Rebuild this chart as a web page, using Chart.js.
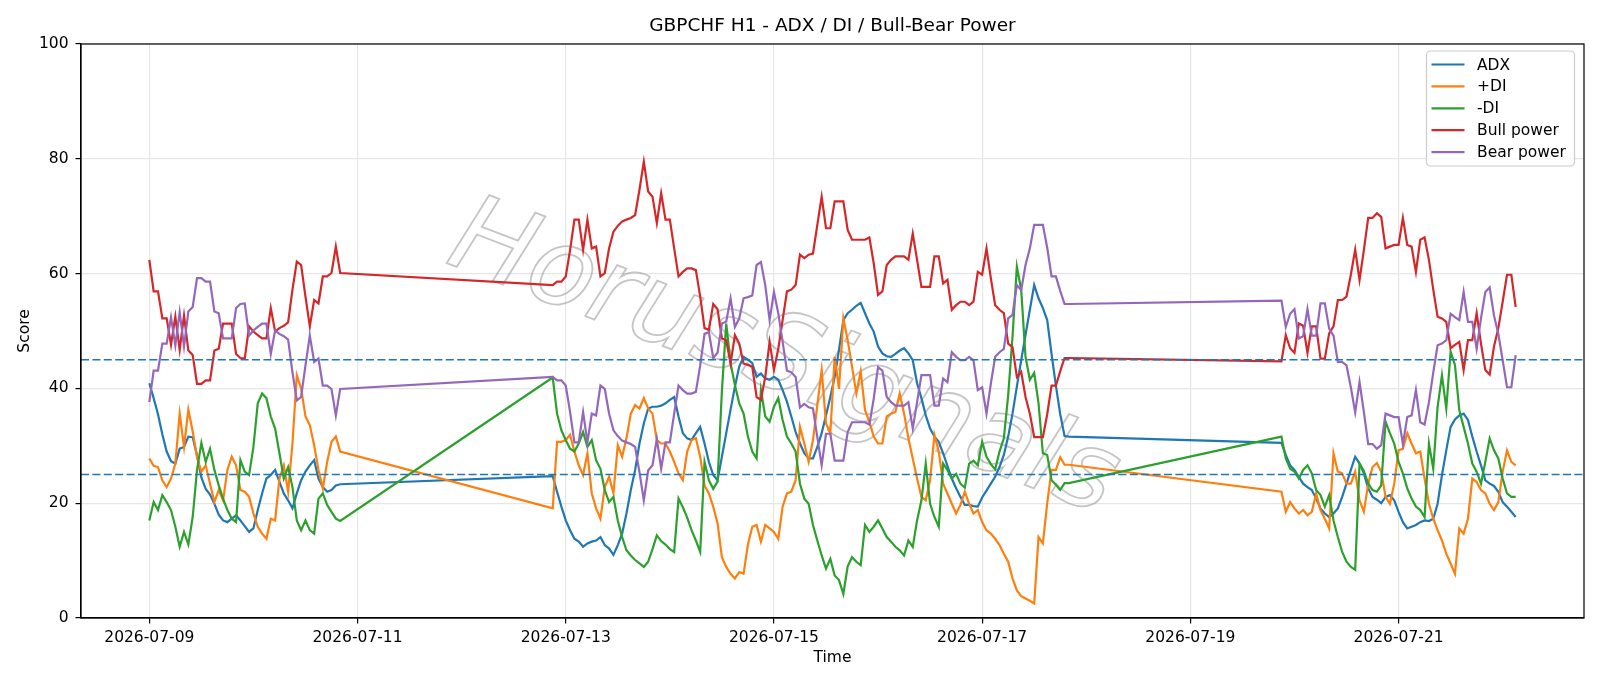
<!DOCTYPE html>
<html>
<head>
<meta charset="utf-8">
<title>GBPCHF H1 - ADX / DI / Bull-Bear Power</title>
<script src="https://cdn.jsdelivr.net/npm/chart.js@4.4.1/dist/chart.umd.min.js"></script>
<style>
  html, body { margin: 0; padding: 0; background: #fff; }
  #wrap { width: 1600px; height: 686px; }
</style>
</head>
<body>
<div id="wrap"><canvas id="chart" width="1600" height="686"></canvas></div>
<script>
// hourly bars, hour offsets counted from 2026-07-09 00:00 (weekends have no bars)
const sessions = [[0, 44], [93, 212], [261, 315]];

const tickHours = [0, 48, 96, 144, 192, 240, 288];
const tickLabels = ["2026-07-09", "2026-07-11", "2026-07-13", "2026-07-15", "2026-07-17", "2026-07-19", "2026-07-21"];

const refLevels = [45, 25];

const adx = [
  40.9, 38.3, 35.5, 32.0, 29.0, 27.3, 26.9, 29.5, 29.8, 31.6,
  31.5, 28.3, 24.5, 22.5, 21.5, 19.9, 18.0, 17.0, 16.7, 17.3,
  17.9, 17.0, 16.0, 15.0, 15.6, 18.8, 21.7, 24.3, 24.9, 25.8,
  23.7, 21.7, 20.5, 19.1, 21.7, 24.0, 25.5, 26.6, 27.5, 24.3,
  22.8, 22.0, 22.3, 23.1, 23.3,
  24.7, 22.0, 19.4, 17.0, 15.3, 13.8, 13.3, 12.4, 13.0, 13.3,
  13.5, 14.1, 12.7, 12.1, 11.0, 12.7, 14.7, 18.2, 22.3, 25.8,
  30.4, 33.9, 36.5, 36.8, 36.8, 37.0, 37.4, 38.0, 38.5, 35.1,
  32.2, 31.3, 31.0, 32.2, 33.3, 30.4, 27.2, 24.9, 24.0, 28.1,
  32.2, 36.3, 40.3, 43.8, 45.5, 45.0, 44.4, 42.0, 42.6, 41.7,
  41.5, 42.0, 41.5, 39.7, 37.7, 35.1, 32.4, 30.4, 28.7, 27.8,
  27.8, 29.8, 32.2, 35.3, 38.5, 42.0, 46.7, 51.9, 53.1, 53.7,
  54.4, 54.9, 53.1, 51.3, 49.9, 47.3, 46.1, 45.6, 45.5, 46.0,
  46.6, 47.0, 46.1, 44.9, 40.9, 38.3, 35.3, 33.0, 31.6, 30.7,
  28.7, 26.5, 24.3, 22.6, 21.1, 19.7, 19.7, 19.5, 19.4, 21.0,
  22.2, 23.4, 24.6, 26.3, 28.4, 31.6, 35.6, 40.3, 44.9, 49.3,
  53.7, 58.0, 55.7, 54.0, 51.9, 46.0, 40.5, 35.5, 31.7, 31.6,
  30.5, 28.4, 26.6, 25.8, 24.6, 23.4, 22.8, 22.3, 20.8, 19.1,
  18.2, 17.6, 18.2, 19.1, 21.1, 23.4, 25.8, 28.1, 26.9, 25.2,
  22.6, 21.1, 20.6, 20.0, 21.1, 21.4, 20.5, 18.5, 16.7, 15.6,
  15.9, 16.2, 16.7, 17.0, 16.9, 17.3, 19.9, 24.9, 29.2, 33.3,
  34.6, 35.3, 35.6, 34.5, 31.6, 29.0, 26.6, 24.0, 23.4, 23.0,
  22.0, 20.2, 19.4, 18.5, 17.6
];

const plusDI = [
  27.8, 26.5, 26.3, 24.0, 22.8, 24.3, 26.9, 35.6, 29.8, 36.3,
  32.5, 28.0, 25.5, 26.6, 23.4, 20.2, 22.3, 20.5, 25.8, 28.1,
  26.6, 22.3, 22.0, 21.1, 18.2, 15.9, 14.7, 13.8, 17.3, 17.0,
  24.3, 26.6, 22.0, 30.4, 42.3, 40.0, 35.1, 33.6, 30.1, 25.8,
  22.6, 27.2, 30.7, 31.6, 29.0,
  19.1, 30.7, 30.7, 31.0, 31.9, 29.0, 26.6, 24.9, 28.7, 21.7,
  19.1, 17.3, 22.8, 24.6, 21.7, 30.1, 28.1, 31.3, 35.6, 37.1,
  36.5, 38.3, 36.5, 35.6, 31.0, 30.4, 30.4, 29.0, 27.2, 25.2,
  24.0, 29.0, 31.0, 31.3, 28.1, 23.1, 21.7, 19.4, 16.5, 10.6,
  8.9, 7.7, 6.9, 8.0, 7.7, 12.8, 15.9, 16.2, 13.3, 16.2,
  15.6, 15.0, 13.8, 19.4, 21.7, 22.0, 24.0, 33.3, 30.4, 27.2,
  31.0, 37.1, 43.2, 33.9, 32.2, 45.5, 39.9, 52.2, 48.4, 43.8,
  39.1, 43.0, 36.2, 34.2, 31.6, 30.4, 30.4, 35.1, 35.6, 35.9,
  39.1, 35.6, 31.3, 27.8, 24.3, 21.1, 20.5, 24.0, 31.9, 29.0,
  23.4, 21.7, 19.9, 18.2, 19.7, 22.0, 19.9, 18.2, 18.8, 16.7,
  15.3, 14.7, 13.8, 12.7, 11.2, 9.8, 6.9, 4.8, 3.8, 3.4,
  3.0, 2.5, 14.1, 13.0, 20.0, 25.8, 25.8, 28.0, 26.7, 26.7,
  22.0, 18.5, 20.2, 19.1, 18.2, 18.8, 17.9, 18.5, 21.7, 18.8,
  17.3, 15.6, 28.7, 25.5, 25.2, 23.4, 23.4, 25.5, 20.5, 18.5,
  23.4, 26.3, 27.0, 25.5, 21.1, 19.9, 23.4, 29.2, 29.5, 32.2,
  30.4, 28.7, 29.0, 24.3, 19.9, 17.3, 15.3, 13.5, 11.2, 9.5,
  7.7, 15.6, 14.7, 17.3, 24.3, 23.7, 22.3, 21.7, 19.9, 18.8,
  20.2, 25.5, 29.2, 27.2, 26.6
];

const minusDI = [
  17.0, 20.2, 18.8, 21.4, 20.2, 18.8, 15.9, 12.4, 15.0, 12.8,
  17.6, 25.8, 30.5, 27.2, 29.5, 25.8, 23.1, 20.8, 18.8, 17.3,
  16.7, 27.5, 25.5, 24.9, 29.8, 37.4, 39.1, 38.3, 35.1, 33.0,
  28.7, 24.3, 26.3, 22.8, 17.0, 15.3, 17.0, 15.3, 14.7, 20.8,
  21.7, 19.7, 18.5, 17.3, 16.9,
  41.9, 35.6, 32.7, 31.0, 29.5, 29.0, 30.4, 32.4, 29.8, 31.0,
  27.5, 26.0, 22.3, 20.2, 21.1, 17.0, 14.1, 11.8, 10.9, 10.1,
  9.5, 8.9, 9.8, 12.0, 14.4, 13.4, 12.8, 12.0, 11.5, 20.8,
  19.3, 17.5, 15.3, 13.5, 11.5, 27.2, 24.0, 22.5, 23.8, 39.5,
  51.3, 44.4, 40.6, 37.4, 35.6, 31.6, 29.0, 27.8, 39.7, 35.1,
  34.2, 36.8, 38.3, 34.5, 31.6, 30.4, 29.0, 23.4, 20.8, 19.9,
  16.2, 13.5, 10.9, 8.6, 10.3, 7.4, 6.6, 4.2, 9.0, 10.6,
  9.8, 9.2, 16.2, 15.0, 15.9, 17.0, 15.6, 14.1, 13.3, 12.4,
  11.8, 10.9, 13.5, 12.4, 17.0, 20.5, 26.9, 19.9, 17.6, 15.9,
  26.9, 25.8, 24.3, 25.1, 23.4, 22.7, 26.9, 27.4, 26.6, 30.7,
  28.1, 26.8, 25.9, 29.0, 31.3, 38.8, 49.0, 61.2, 57.2, 45.5,
  41.5, 42.7, 37.4, 28.7, 28.4, 24.0, 23.2, 22.3, 23.5, 23.5,
  31.6, 27.8, 26.0, 25.5, 24.3, 25.8, 26.6, 25.2, 22.3, 21.4,
  19.4, 21.4, 17.0, 14.1, 11.5, 9.8, 8.9, 8.4, 26.9, 25.6,
  23.4, 22.3, 22.0, 23.1, 34.2, 32.2, 30.4, 27.2, 25.2, 22.6,
  20.8, 19.4, 18.8, 17.6, 30.4, 26.0, 36.8, 42.3, 36.5, 46.4,
  44.1, 36.2, 33.3, 30.4, 26.9, 25.5, 23.4, 27.2, 31.3, 29.2,
  27.8, 24.3, 21.7, 21.1, 21.1
];

const bullPower = [
  62.4, 56.9, 56.9, 52.2, 52.2, 47.6, 52.5, 46.7, 52.7, 46.6,
  45.8, 40.8, 40.8, 41.4, 41.4, 46.6, 46.9, 51.3, 51.3, 51.3,
  46.0, 45.3, 45.2, 50.8, 49.9, 49.3, 48.7, 48.7, 54.0, 49.9,
  50.5, 50.9, 51.5, 57.2, 62.1, 61.5, 56.0, 50.8, 55.4, 54.8,
  59.5, 59.5, 60.1, 64.7, 60.1,
  58.0, 58.6, 58.6, 59.5, 64.1, 69.4, 69.4, 64.1, 69.4, 64.4,
  64.7, 59.5, 60.1, 64.4, 67.3, 68.3, 69.1, 69.4, 69.7, 70.2,
  74.6, 79.5, 74.3, 73.4, 68.8, 74.0, 69.4, 69.4, 64.4, 59.5,
  60.3, 60.9, 60.9, 60.6, 56.0, 50.5, 50.2, 54.7, 53.8, 48.7,
  48.4, 44.3, 49.3, 47.8, 44.3, 44.1, 43.8, 38.5, 38.0, 42.0,
  48.1, 43.2, 46.9, 51.9, 56.9, 57.2, 58.0, 63.3, 62.7, 63.3,
  63.5, 68.5, 73.4, 67.9, 67.9, 72.6, 72.6, 72.6, 67.6, 65.9,
  65.9, 65.9, 65.9, 66.3, 61.8, 56.3, 56.9, 61.5, 62.4, 63.0,
  63.0, 63.0, 62.4, 67.0, 62.4, 57.7, 57.7, 57.7, 63.0, 63.0,
  58.3, 58.9, 53.7, 54.5, 55.1, 55.1, 54.5, 55.1, 60.3, 59.8,
  64.4, 59.2, 54.5, 53.7, 53.1, 47.8, 47.2, 42.0, 42.9, 38.5,
  35.6, 31.5, 31.5, 31.5, 35.5, 40.5, 40.5, 43.0, 45.3, 45.3,
  44.7, 49.3, 47.0, 46.2, 51.3, 50.9, 46.2, 50.8, 50.8, 45.2,
  45.2, 49.6, 50.8, 55.4, 55.4, 56.0, 59.8, 64.2, 58.9, 64.1,
  69.7, 69.7, 70.5, 69.9, 64.4, 64.7, 65.0, 65.0, 69.7, 65.0,
  64.7, 60.3, 65.9, 66.3, 62.4, 57.2, 52.5, 52.2, 51.6, 47.0,
  47.6, 48.1, 43.2, 48.4, 48.4, 53.1, 47.8, 43.2, 42.4, 47.3,
  50.5, 55.1, 59.8, 59.8, 54.2
];

const bearPower = [
  37.6, 43.1, 43.1, 47.8, 47.8, 52.4, 47.5, 53.3, 47.3, 53.4,
  54.2, 59.2, 59.2, 58.6, 58.6, 53.4, 53.1, 48.7, 48.7, 48.7,
  54.0, 54.7, 54.8, 49.2, 50.1, 50.7, 51.3, 51.3, 46.0, 50.1,
  49.5, 49.1, 48.5, 42.8, 37.9, 38.5, 44.0, 49.2, 44.6, 45.2,
  40.5, 40.5, 39.9, 35.3, 39.9,
  42.0, 41.4, 41.4, 40.5, 35.9, 30.6, 30.6, 35.9, 30.6, 35.6,
  35.3, 40.5, 39.9, 35.6, 32.7, 31.7, 30.9, 30.6, 30.3, 29.8,
  25.4, 20.5, 25.7, 26.6, 31.2, 26.0, 30.6, 30.6, 35.6, 40.5,
  39.7, 39.1, 39.1, 39.4, 44.0, 49.5, 49.8, 45.3, 46.2, 51.3,
  51.6, 55.7, 50.7, 52.2, 55.7, 55.9, 56.2, 61.5, 62.0, 58.0,
  51.9, 56.8, 53.1, 48.1, 43.1, 42.8, 42.0, 36.7, 37.3, 36.7,
  36.5, 31.5, 26.6, 32.1, 32.1, 27.4, 27.4, 27.4, 32.4, 34.1,
  34.1, 34.1, 34.1, 33.7, 38.2, 43.7, 43.1, 38.5, 37.6, 37.0,
  37.0, 37.0, 37.6, 33.0, 37.6, 42.3, 42.3, 42.3, 37.0, 37.0,
  41.7, 41.1, 46.3, 45.5, 44.9, 44.9, 45.5, 44.9, 39.7, 40.2,
  35.6, 40.8, 45.5, 46.3, 46.9, 52.2, 52.8, 58.0, 57.1, 61.5,
  64.4, 68.5, 68.5, 68.5, 64.5, 59.5, 59.5, 57.0, 54.7, 54.7,
  55.3, 50.7, 53.0, 53.8, 48.7, 49.1, 53.8, 49.2, 49.2, 54.8,
  54.8, 50.4, 49.2, 44.6, 44.6, 44.0, 40.2, 35.8, 41.1, 35.9,
  30.3, 30.3, 29.5, 30.1, 35.6, 35.3, 35.0, 35.0, 30.3, 35.0,
  35.3, 39.7, 34.1, 33.7, 37.6, 42.8, 47.5, 47.8, 48.4, 53.0,
  52.4, 51.9, 56.8, 51.6, 51.6, 46.9, 52.2, 56.8, 57.6, 52.7,
  49.5, 44.9, 40.2, 40.2, 45.8
];

const hours = [];
sessions.forEach(([a, b]) => { for (let h = a; h <= b; h++) hours.push(h); });

const FONT = "'DejaVu Sans', sans-serif";

const series = [
  { label: "ADX", values: adx, color: "#1f77b4" },
  { label: "+DI", values: plusDI, color: "#ff7f0e" },
  { label: "-DI", values: minusDI, color: "#2ca02c" },
  { label: "Bull power", values: bullPower, color: "#d62728" },
  { label: "Bear power", values: bearPower, color: "#9467bd" }
];

// matplotlib style 5% margins
const span = hours[hours.length - 1] - hours[0];
const xMin = hours[0] - span * 0.05;
const xMax = hours[hours.length - 1] + span * 0.05;

const extras = {
  id: "extras",
  beforeDatasetsDraw(chart) {
    const { ctx, chartArea: a } = chart;
    ctx.save();
    ctx.beginPath();
    ctx.rect(a.left, a.top, a.right - a.left, a.bottom - a.top);
    ctx.clip();
    ctx.translate(783, 362);
    ctx.rotate(21 * Math.PI / 180);
    ctx.font = "italic 108px " + FONT;
    ctx.textAlign = "center";
    ctx.textBaseline = "middle";
    ctx.lineWidth = 1.8;
    ctx.strokeStyle = "rgba(140,140,140,0.5)";
    ctx.strokeText("HorusSignals", 0, 0);
    ctx.restore();
  },
  afterDatasetsDraw(chart) {
    const { ctx, chartArea: a, scales } = chart;
    ctx.save();
    ctx.strokeStyle = "#1f77b4";
    ctx.lineWidth = 1.5;
    ctx.setLineDash([8, 3.4]);
    refLevels.forEach(v => {
      const y = scales.y.getPixelForValue(v);
      ctx.beginPath();
      ctx.moveTo(a.left, y);
      ctx.lineTo(a.right, y);
      ctx.stroke();
    });
    ctx.setLineDash([]);
    ctx.strokeStyle = "#000";
    ctx.lineWidth = 1.2;
    ctx.strokeRect(a.left, a.top, a.right - a.left, a.bottom - a.top);
    ctx.restore();
  },
  afterDraw(chart) {
    const { ctx, chartArea: a } = chart;
    ctx.save();
    // title
    ctx.fillStyle = "#000";
    ctx.font = "18.5px " + FONT;
    ctx.textAlign = "center";
    ctx.textBaseline = "middle";
    ctx.fillText("GBPCHF H1 - ADX / DI / Bull-Bear Power", (a.left + a.right) / 2, 26);

    // legend
    const bw = 148, bh = 115;
    const bx = a.right - 9.5 - bw, by = a.top + 7;
    ctx.beginPath();
    ctx.roundRect(bx, by, bw, bh, 4);
    ctx.fillStyle = "rgba(255,255,255,0.8)";
    ctx.fill();
    ctx.strokeStyle = "#cccccc";
    ctx.lineWidth = 1.2;
    ctx.stroke();
    ctx.font = "15.5px " + FONT;
    ctx.textAlign = "left";
    ctx.textBaseline = "middle";
    chart.data.datasets.forEach((d, i) => {
      const y = by + 13.5 + i * 21.9;
      ctx.strokeStyle = d.borderColor;
      ctx.lineWidth = 2.2;
      ctx.beginPath();
      ctx.moveTo(bx + 5, y);
      ctx.lineTo(bx + 38, y);
      ctx.stroke();
      ctx.fillStyle = "#000";
      ctx.fillText(d.label, bx + 50.5, y + 1);
    });
    ctx.restore();
  }
};

new Chart(document.getElementById("chart"), {
  type: "line",
  data: {
    datasets: series.map((s, i) => ({
      label: s.label,
      data: hours.map((h, j) => ({ x: h, y: s.values[j] })),
      borderColor: s.color,
      backgroundColor: s.color,
      borderWidth: 2.2,
      pointRadius: 0,
      tension: 0,
      fill: false,
      order: series.length - i
    }))
  },
  options: {
    responsive: false,
    animation: false,
    devicePixelRatio: 1,
    layout: { padding: { top: 44, right: 16, bottom: 0, left: 0 } },
    plugins: {
      legend: { display: false },
      title: { display: false },
      tooltip: { enabled: false }
    },
    scales: {
      x: {
        type: "linear",
        min: xMin,
        max: xMax,
        afterBuildTicks: s => { s.ticks = tickHours.map(v => ({ value: v })); },
        afterFit: s => { s.height = 68; },
        ticks: {
          callback: v => tickLabels[tickHours.indexOf(v)],
          font: { family: FONT, size: 15.5 },
          color: "#000",
          padding: 5,
          maxRotation: 0,
          autoSkip: false
        },
        grid: { color: "#e6e6e6", lineWidth: 1.2, tickLength: 5.5, tickColor: "#000", tickWidth: 1.2 },
        border: { color: "#000", width: 1.2 },
        title: {
          display: true, text: "Time", color: "#000",
          font: { family: FONT, size: 15.5 },
          padding: { top: 0, bottom: 19 }
        }
      },
      y: {
        min: 0,
        max: 100,
        afterFit: s => { s.width = 81; },
        ticks: {
          stepSize: 20,
          font: { family: FONT, size: 15.5 },
          color: "#000",
          padding: 7
        },
        grid: { color: "#e6e6e6", lineWidth: 1.2, tickLength: 5.5, tickColor: "#000", tickWidth: 1.2 },
        border: { color: "#000", width: 1.2 },
        title: {
          display: true, text: "Score", color: "#000",
          font: { family: FONT, size: 15.5 },
          padding: { top: 16, bottom: 0 }
        }
      }
    }
  },
  plugins: [extras]
});
</script>
</body>
</html>
